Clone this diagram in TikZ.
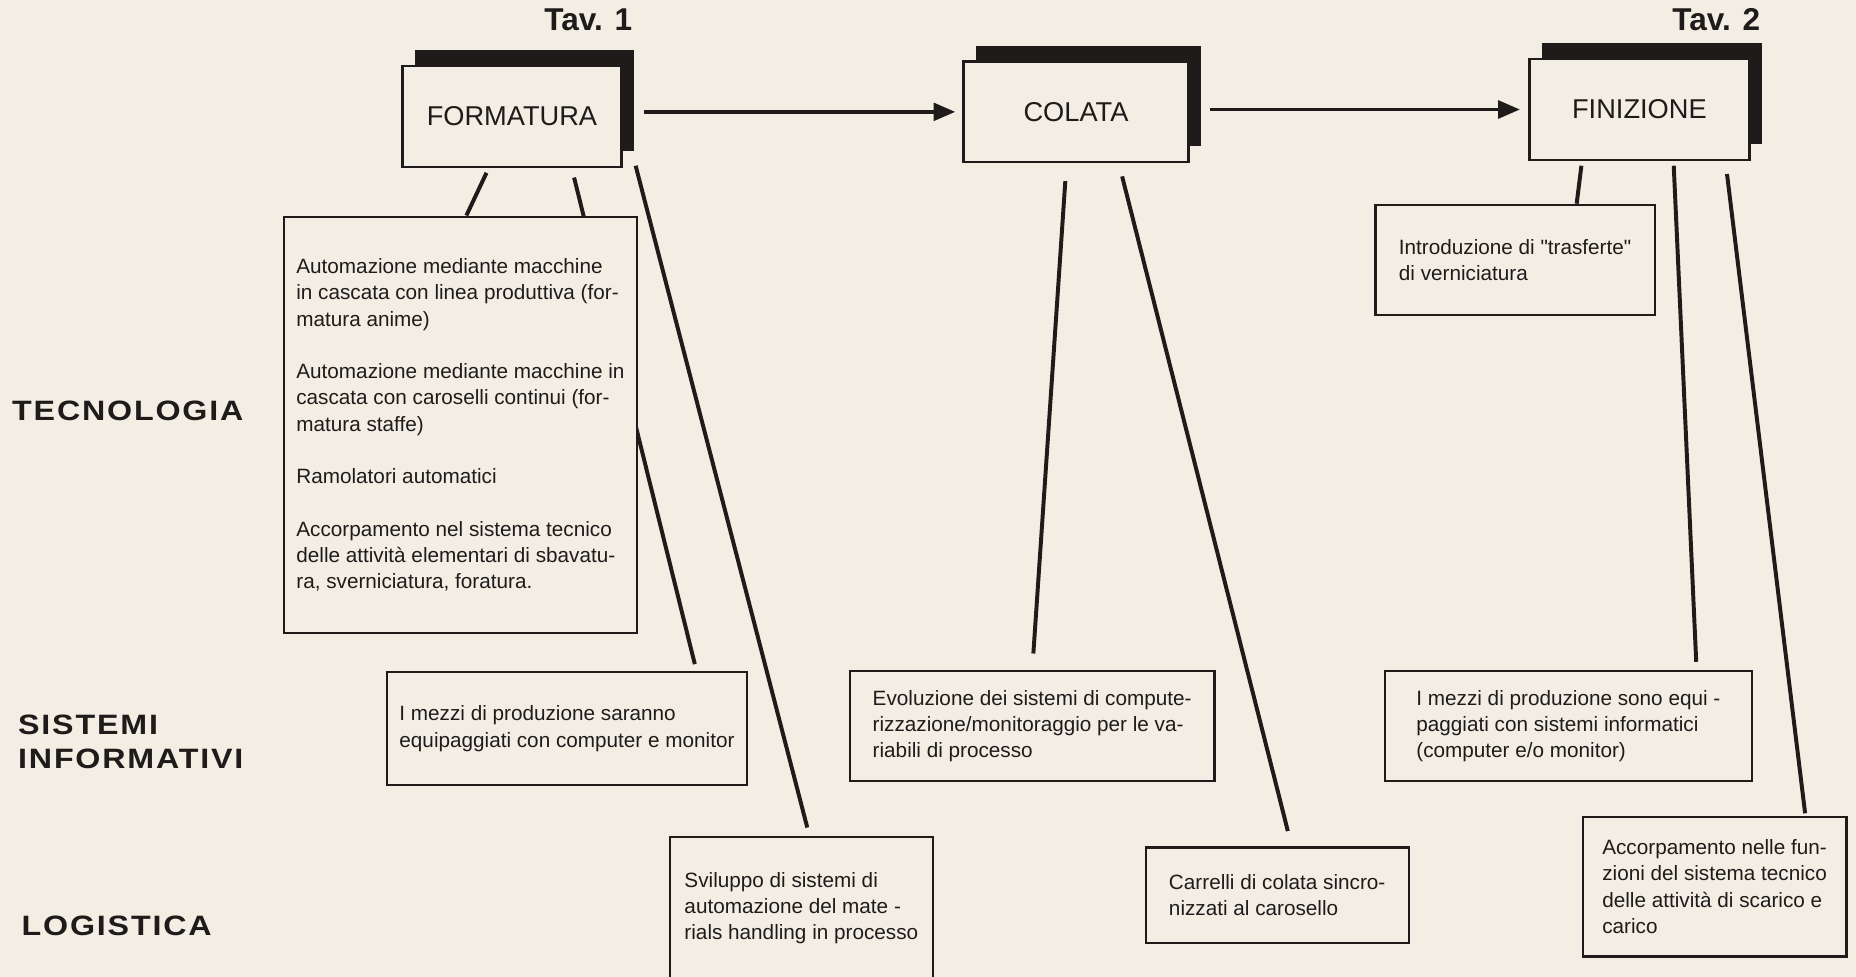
\documentclass[tikz,border=0pt]{standalone}
\usepackage{fontspec}
\setmainfont{Liberation Sans}
\newfontfamily\headfont[FakeStretch=1.15,LetterSpace=6.5]{Liberation Sans}
\usetikzlibrary{positioning,arrows.meta,shadows}
\definecolor{paper}{RGB}{243,238,227}
\definecolor{ink}{RGB}{30,27,26}
\newcommand{\straightq}[1]{{\addfontfeature{Ligatures=TeXOff}"#1"}}
\pgfdeclarelayer{paperlayer}
\pgfdeclarelayer{linklayer}
\pgfsetlayers{paperlayer,linklayer,main}
\tikzset{
  stagebox/.style={draw=ink, line width=1.2pt, fill=paper, text=ink, minimum height=51pt,
    font=\fontsize{13.8}{16}\selectfont,
    drop shadow={shadow xshift=6.3pt, shadow yshift=8.1pt, opacity=1, fill=ink}},
  notebox/.style={draw=ink, line width=1.1pt, fill=paper, text=ink, align=left,
    font=\fontsize{10.5}{13.3}\selectfont},
  rowhead/.style={anchor=west, align=left, inner sep=0pt, text=ink,
    font=\headfont\bfseries\fontsize{14.2}{17.4}\selectfont},
  tavlabel/.style={text=ink, inner sep=0pt, font=\bfseries\fontsize{16}{19}\selectfont},
  linkline/.style={draw=ink, line width=2pt},
  flowarrow/.style={draw=ink, line width=1.7pt, -{Triangle[length=11pt,width=9pt]}}
}

\begin{document}
\begin{tikzpicture}[x=0.6pt,y=-0.6pt]
\useasboundingbox (0,0) rectangle (1568,825);
\begin{pgfonlayer}{paperlayer}
\fill[paper] (0,0) rectangle (1568,825);
\end{pgfonlayer}

\node[tavlabel] (tavA) at (497,17) {Tav. 1};
\node[tavlabel] (tavB) at (1450,17) {Tav. 2};

\node[stagebox, minimum width=111pt] (form) at (432.5,98.5) {FORMATURA};
\node[stagebox, minimum width=114pt] (col) at (909,94.5) {COLATA};
\node[stagebox, minimum width=111.6pt] (fin) at (1385,92.5) {FINIZIONE};

\node[rowhead] (tec) at (10,347) {TECNOLOGIA};
\node[rowhead] (sis) at (15,626.5) {SISTEMI\\INFORMATIVI};
\node[rowhead] (log) at (18,782) {LOGISTICA};

\node[notebox, minimum width=178.8pt, minimum height=211.2pt] (tecA) at (389,359) {%
Automazione mediante macchine\\
in cascata con linea produttiva (for-\\
matura anime)\\[13.3pt]
Automazione mediante macchine in\\
cascata con caroselli continui (for-\\
matura staffe)\\[13.3pt]
Ramolatori automatici\\[13.3pt]
Accorpamento nel sistema tecnico\\
delle attività elementari di sbavatu-\\
ra, sverniciatura, foratura.};
\node[notebox, minimum width=182.4pt, minimum height=57pt] (siA) at (479,615.5)
  {I mezzi di produzione saranno\\equipaggiati con computer e monitor};
\node[notebox, minimum width=133.2pt, minimum height=72pt] (logA) at (677,767)
  {Sviluppo di sistemi di\\automazione del mate -\\rials handling in processo};

\node[notebox, minimum width=184.8pt, minimum height=55.8pt] (siB) at (872,613.5)
  {Evoluzione dei sistemi di compute-\\rizzazione/monitoraggio per le va-\\riabili di processo};
\node[notebox, minimum width=133.2pt, minimum height=48.6pt] (logB) at (1079,756.5)
  {Carrelli di colata sincro-\\nizzati al carosello};

\node[notebox, minimum width=141.6pt, minimum height=55.8pt] (tecC) at (1280,219.5)
  {Introduzione di \straightq{trasferte}\\di verniciatura};
\node[notebox, minimum width=186pt, minimum height=55.8pt] (siC) at (1325,613.5)
  {I mezzi di produzione sono equi -\\paggiati con sistemi informatici\\(computer e/o monitor)};
\node[notebox, minimum width=133.8pt, minimum height=70.8pt] (logC) at (1448.5,749)
  {Accorpamento nelle fun-\\zioni del sistema tecnico\\delle attività di scarico e\\carico};

\begin{pgfonlayer}{linklayer}
\draw[linkline] ([shift={(-21.5,4)}]form.south) -- ([shift={(5,0)}]tecA.north);
\draw[linkline] ([shift={(52.5,8)}]form.south) -- ([shift={(108,-6)}]siA.north);
\draw[linkline] ([shift={(11,-2)}]form.south east) -- ([shift={(5,-7)}]logA.north);
\draw[linkline] ([shift={(-9,15)}]col.south) -- ([shift={(1,-14)}]siB.north);
\draw[linkline] ([shift={(39,11)}]col.south) -- ([shift={(9,-13)}]logB.north);
\draw[linkline] ([shift={(-49,4)}]fin.south) -- ([shift={(52,0)}]tecC.north);
\draw[linkline] ([shift={(29,4)}]fin.south) -- ([shift={(108,-7)}]siC.north);
\draw[linkline] ([shift={(74,11)}]fin.south) -- ([shift={(76.5,-2)}]logC.north);
\end{pgfonlayer}

\draw[flowarrow, shorten <=10.8pt, shorten >=3.6pt] (form.east |- col.west) -- (col.west);
\draw[flowarrow, shorten <=10.2pt, shorten >=4.2pt] (col.east |- fin.west) -- (fin.west);
\end{tikzpicture}
\end{document}
